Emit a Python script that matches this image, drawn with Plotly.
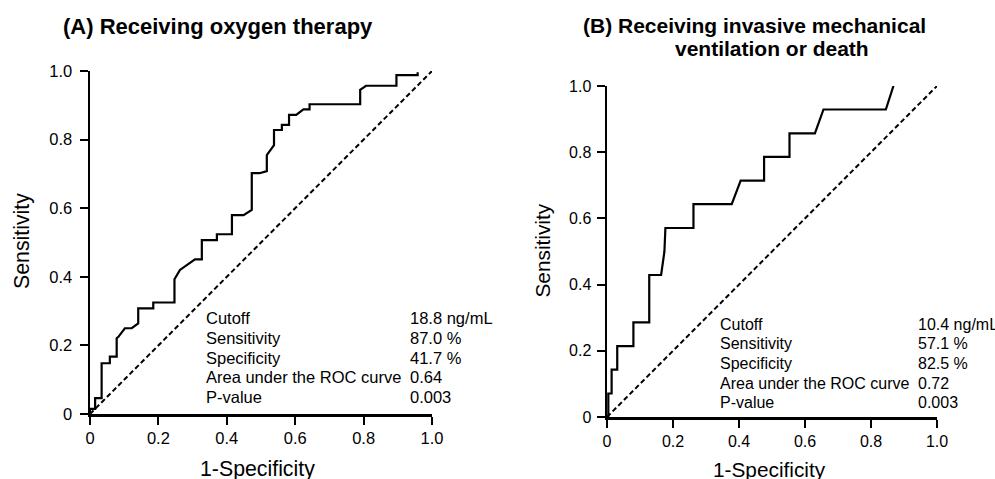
import plotly.graph_objects as go

# ---------------- data ----------------
A_fpr = [0, 0, 0.015, 0.015, 0.034, 0.034, 0.058, 0.058, 0.078, 0.078, 0.083, 0.102, 0.122, 0.141,
         0.141, 0.185, 0.185, 0.247, 0.247, 0.263, 0.307, 0.327, 0.327, 0.371, 0.371, 0.415, 0.415,
         0.449, 0.473, 0.473, 0.496, 0.517, 0.517, 0.538, 0.538, 0.561, 0.561, 0.582, 0.582, 0.603,
         0.624, 0.642, 0.642, 0.790, 0.790, 0.807, 0.896, 0.896, 0.958, 0.958]
A_tpr = [0, 0.015, 0.015, 0.046, 0.046, 0.148, 0.148, 0.167, 0.167, 0.221, 0.225, 0.250, 0.250, 0.264,
         0.308, 0.308, 0.325, 0.325, 0.393, 0.420, 0.451, 0.451, 0.507, 0.507, 0.524, 0.524, 0.580,
         0.580, 0.595, 0.702, 0.702, 0.708, 0.755, 0.784, 0.828, 0.828, 0.843, 0.843, 0.872, 0.872,
         0.888, 0.888, 0.903, 0.903, 0.945, 0.957, 0.957, 0.988, 0.988, 0.996]

B_fpr = [0, 0.004, 0.004, 0.014, 0.014, 0.031, 0.031, 0.080, 0.080, 0.128, 0.128, 0.164, 0.174,
         0.177, 0.262, 0.262, 0.378, 0.405, 0.476, 0.476, 0.553, 0.553, 0.630, 0.656, 0.845, 0.868]
B_tpr = [0, 0, 0.071, 0.071, 0.143, 0.143, 0.214, 0.214, 0.286, 0.286, 0.429, 0.429, 0.500,
         0.571, 0.571, 0.643, 0.643, 0.714, 0.714, 0.786, 0.786, 0.857, 0.857, 0.929, 0.929, 1.000]

ref_line = [0, 1]

tick_vals = [0, 0.2, 0.4, 0.6, 0.8, 1.0]
tick_text = ["0", "0.2", "0.4", "0.6", "0.8", "1.0"]

stat_labels = ["Cutoff", "Sensitivity", "Specificity", "Area under the ROC curve", "P-value"]
A_values = ["18.8 ng/mL", "87.0 %", "41.7 %", "0.64", "0.003"]
B_values = ["10.4 ng/mL", "57.1 %", "82.5 %", "0.72", "0.003"]

title_A = "(A) Receiving oxygen therapy"
title_B1 = "(B) Receiving invasive mechanical"
title_B2 = "ventilation or death"
x_title = "1-Specificity"
y_title = "Sensitivity"

# ---------------- layout helpers ----------------
W, H = 995, 479
FONT = "Liberation Sans, Arial, Helvetica, sans-serif"


def px(x):
    return x / W


def py(y):
    return 1 - y / H


fig = go.Figure()

for xs, ys, xa, ya in [(A_fpr, A_tpr, "x", "y"), (B_fpr, B_tpr, "x2", "y2")]:
    fig.add_trace(go.Scatter(x=ref_line, y=ref_line, mode="lines", xaxis=xa, yaxis=ya,
                             line=dict(color="black", width=2, dash="5px,3px"),
                             showlegend=False, hoverinfo="skip"))
    fig.add_trace(go.Scatter(x=xs, y=ys, mode="lines", xaxis=xa, yaxis=ya,
                             line=dict(color="black", width=2.2),
                             showlegend=False))


def axis(dom, anchor, fsize, standoff):
    return dict(domain=dom, anchor=anchor, range=[0, 1], showgrid=False, zeroline=False,
                showline=True, linecolor="black", linewidth=2.5, ticks="outside", ticklen=8,
                tickwidth=2, tickcolor="black", tickvals=tick_vals, ticktext=tick_text,
                tickfont=dict(family=FONT, size=fsize, color="black"), fixedrange=True,
                automargin=False, ticklabelstandoff=standoff)


fig.update_layout(
    template="none",
    width=W, height=H,
    margin=dict(l=0, r=0, t=0, b=0, pad=0),
    paper_bgcolor="white", plot_bgcolor="white",
    font=dict(family=FONT, color="black"),
    xaxis=axis([px(90), px(432)], "y", 16.5, 0),
    yaxis=axis([py(414), py(71)], "x", 16.5, 4),
    xaxis2=axis([px(607), px(937)], "y2", 16, 0),
    yaxis2=axis([py(417), py(86)], "x2", 16, 2),
)

ann = []


def add(text, x, y, size, xanchor="left", bold=False, angle=0):
    ann.append(dict(text=f"<b>{text}</b>" if bold else text, x=px(x), y=py(y),
                    xref="paper", yref="paper", xanchor=xanchor, yanchor="middle",
                    showarrow=False, textangle=angle,
                    font=dict(family=FONT, size=size, color="black")))


add(title_A, 217.5, 26, 22, "center", bold=True)
add(title_B1, 754, 25, 21, "center", bold=True)
add(title_B2, 771.5, 48.5, 21, "center", bold=True)

add(x_title, 257.5, 469, 21.3, "center")
add(x_title, 769, 469, 20.8, "center")
add(y_title, 22, 241, 21.3, "center", angle=-90)
add(y_title, 541.5, 251, 20.8, "center", angle=-90)

A_rows = [318, 337.7, 357.5, 377.2, 397]
B_rows = [324, 343.7, 363.4, 383, 402.7]
for i, lab in enumerate(stat_labels):
    add(lab, 204, A_rows[i], 16.5)
    add(A_values[i], 408, A_rows[i], 16.5)
    add(lab, 718, B_rows[i], 16)
    add(B_values[i], 915.7, B_rows[i], 16)

fig.update_layout(annotations=ann)

fig.write_html(
    "out.html",
    config={"displayModeBar": False, "staticPlot": True},
    post_script="document.body.style.margin='0';document.body.style.overflow='hidden';",
)
